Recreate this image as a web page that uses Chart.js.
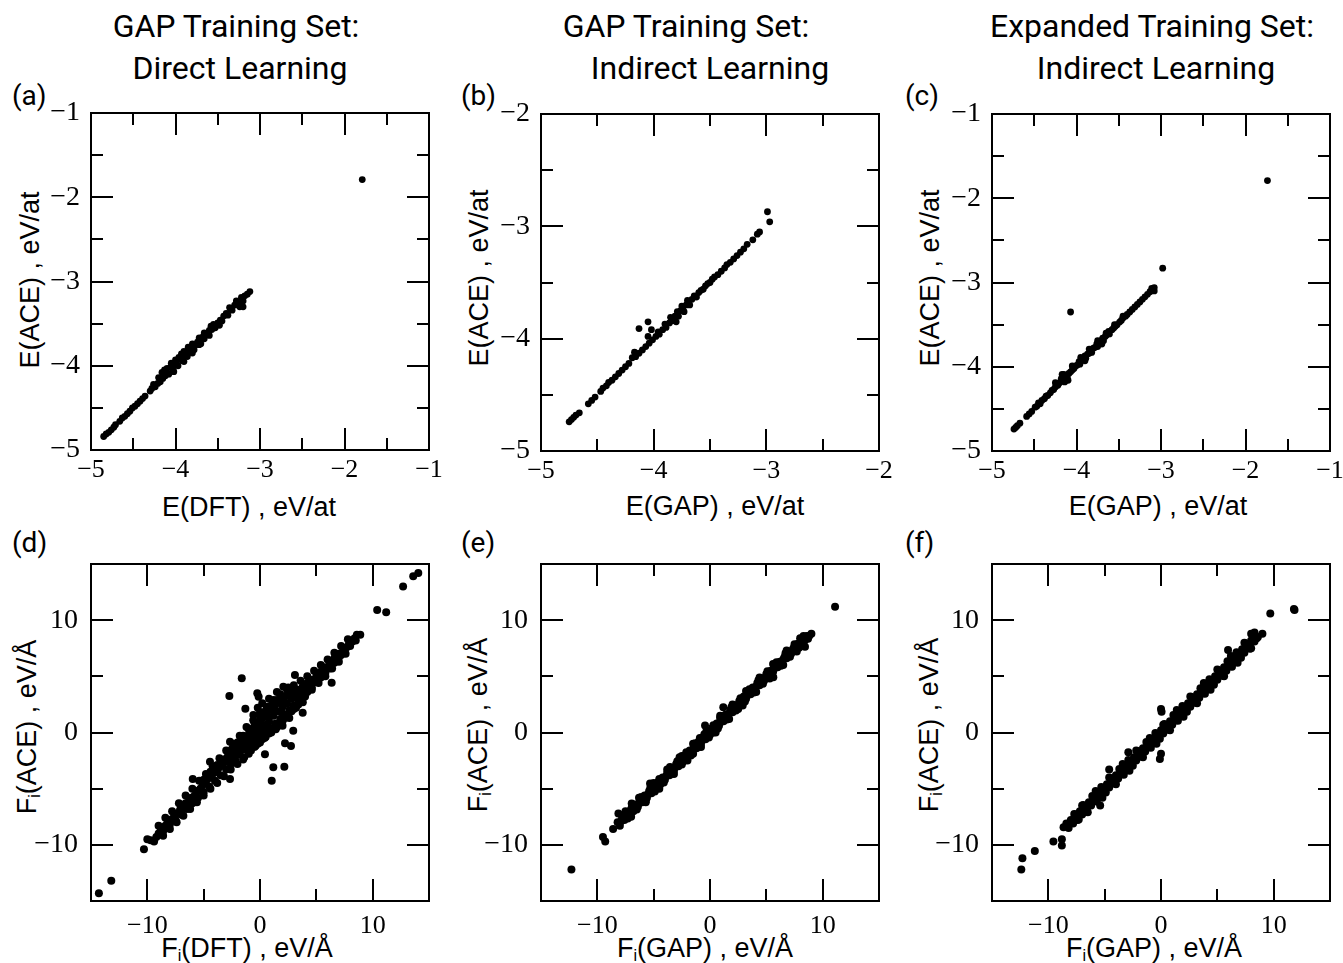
<!DOCTYPE html>
<html>
<head>
<meta charset="utf-8">
<script src="https://cdn.jsdelivr.net/npm/chart.js@4.4.1/dist/chart.umd.min.js"></script>
<style>
  body { margin: 0; background: #fff; }
  #page { position: relative; width: 1343px; height: 963px; overflow: hidden; background: #fff; }
  canvas { position: absolute; }
  .title { position: absolute; font-family: Roboto, sans-serif; font-size: 32px; line-height: 32px; white-space: nowrap; transform: translate(-50%, -50%); color: #000; }
  .plabel { position: absolute; font-family: Roboto, sans-serif; font-size: 28px; line-height: 28px; transform: translateY(-50%); color: #000; }
  .xtitle { position: absolute; font-family: "Liberation Sans", Arial, sans-serif; font-size: 27px; line-height: 27px; white-space: nowrap; transform: translate(-50%, -50%); color: #000; }
  .ytitle { position: absolute; font-family: "Liberation Sans", Arial, sans-serif; font-size: 27px; line-height: 27px; white-space: nowrap; transform: translate(-50%, -50%) rotate(-90deg); color: #000; }
  sub { font-size: 0.6em; vertical-align: -0.3em; line-height: 0; }
</style>
</head>
<body>
<div id="page">
  <div class="title" style="left:236px;top:26px">GAP Training Set:</div>
  <div class="title" style="left:240px;top:68px">Direct Learning</div>
  <div class="title" style="left:686px;top:26px">GAP Training Set:</div>
  <div class="title" style="left:710px;top:68px">Indirect Learning</div>
  <div class="title" style="left:1152px;top:26px">Expanded Training Set:</div>
  <div class="title" style="left:1156px;top:68px">Indirect Learning</div>

  <div class="plabel" style="left:12px;top:96px">(a)</div>
  <div class="plabel" style="left:461px;top:96px">(b)</div>
  <div class="plabel" style="left:905px;top:96px">(c)</div>
  <div class="plabel" style="left:12px;top:543px">(d)</div>
  <div class="plabel" style="left:461px;top:543px">(e)</div>
  <div class="plabel" style="left:905px;top:543px">(f)</div>

  <div class="xtitle" style="left:249px;top:507px">E(DFT) , eV/at</div>
  <div class="xtitle" style="left:715px;top:506px">E(GAP) , eV/at</div>
  <div class="xtitle" style="left:1158px;top:506px">E(GAP) , eV/at</div>
  <div class="xtitle" style="left:247px;top:948px">F<sub>i</sub>(DFT) , eV/Å</div>
  <div class="xtitle" style="left:705px;top:948px">F<sub>i</sub>(GAP) , eV/Å</div>
  <div class="xtitle" style="left:1154px;top:948px">F<sub>i</sub>(GAP) , eV/Å</div>

  <div class="ytitle" style="left:30px;top:280px">E(ACE) , eV/at</div>
  <div class="ytitle" style="left:479px;top:278px">E(ACE) , eV/at</div>
  <div class="ytitle" style="left:930px;top:278px">E(ACE) , eV/at</div>
  <div class="ytitle" style="left:27px;top:727px">F<sub>i</sub>(ACE) , eV/Å</div>
  <div class="ytitle" style="left:478px;top:725px">F<sub>i</sub>(ACE) , eV/Å</div>
  <div class="ytitle" style="left:929px;top:725px">F<sub>i</sub>(ACE) , eV/Å</div>
</div>

<script>
// axis ranges (min, max) and tick steps
const rangeE1 = [-5, -1];
const rangeE2 = [-5, -2];
const rangeF = [-15, 15];
const stepsE = [1, 0.5];   // major, minor
const stepsF = [10, 5];

// (a) energies, direct learning: [E(DFT), E(ACE)]
const eDirect = [
  [-4.85,-4.84],[-4.82,-4.81],[-4.79,-4.79],[-4.76,-4.76],[-4.73,-4.73],[-4.71,-4.70],
  [-4.66,-4.66],[-4.63,-4.62],[-4.60,-4.60],[-4.57,-4.57],[-4.54,-4.54],[-4.51,-4.50],
  [-4.48,-4.48],[-4.45,-4.45],[-4.42,-4.42],[-4.39,-4.39],[-4.36,-4.36],
  [-4.30,-4.30],[-4.28,-4.27],[-4.26,-4.22],[-4.24,-4.25],[-4.21,-4.21],[-4.20,-4.14],
  [-4.19,-4.15],[-4.18,-4.19],[-4.16,-4.08],[-4.15,-4.15],[-4.13,-4.05],[-4.12,-4.12],
  [-4.10,-4.09],[-4.10,-4.03],[-4.08,-4.10],[-4.06,-4.02],[-4.05,-3.97],[-4.03,-4.05],
  [-4.02,-4.07],[-4.01,-3.99],[-4.00,-3.93],[-3.99,-3.95],[-3.97,-4.00],[-3.96,-3.90],
  [-3.95,-3.92],[-3.93,-3.86],[-3.92,-3.94],[-3.90,-3.88],[-3.90,-3.83],[-3.90,-3.95],
  [-3.88,-3.85],[-3.86,-3.89],[-3.85,-3.78],[-3.84,-3.80],[-3.83,-3.84],[-3.81,-3.79],
  [-3.80,-3.74],[-3.80,-3.85],[-3.79,-3.75],[-3.78,-3.81],[-3.76,-3.75],[-3.74,-3.72],
  [-3.72,-3.67],[-3.72,-3.75],[-3.70,-3.68],[-3.70,-3.74],[-3.68,-3.66],[-3.66,-3.61],
  [-3.66,-3.68],[-3.64,-3.62],[-3.62,-3.63],[-3.60,-3.58],[-3.60,-3.64],[-3.58,-3.53],
  [-3.57,-3.57],[-3.55,-3.51],[-3.53,-3.55],[-3.50,-3.49],[-3.48,-3.52],[-3.47,-3.46],
  [-3.45,-3.47],[-3.43,-3.41],[-3.40,-3.38],[-3.38,-3.40],[-3.36,-3.31],[-3.35,-3.33],
  [-3.33,-3.34],[-3.30,-3.28],[-3.28,-3.23],[-3.27,-3.27],[-3.25,-3.26],[-3.24,-3.30],
  [-3.22,-3.19],[-3.20,-3.23],[-3.20,-3.30],[-3.18,-3.17],[-3.15,-3.15],[-3.12,-3.12],
  [-1.79,-1.79]
];

// (b) energies, GAP set, indirect: [E(GAP), E(ACE)]
const eIndirect = [
  [-4.75,-4.74],[-4.73,-4.72],[-4.71,-4.70],[-4.69,-4.68],[-4.66,-4.66],
  [-4.58,-4.58],[-4.55,-4.55],[-4.52,-4.52],
  [-4.47,-4.47],[-4.45,-4.44],[-4.42,-4.42],[-4.40,-4.39],[-4.37,-4.37],[-4.34,-4.34],
  [-4.31,-4.31],[-4.28,-4.28],[-4.25,-4.25],[-4.22,-4.22],
  [-4.19,-4.17],[-4.17,-4.12],[-4.16,-4.16],[-4.13,-4.13],[-4.13,-3.91],[-4.10,-4.10],
  [-4.07,-4.07],[-4.05,-3.85],[-4.05,-3.98],[-4.04,-4.04],[-4.02,-3.92],[-4.01,-4.01],
  [-3.98,-3.98],[-3.96,-3.94],[-3.95,-3.96],[-3.92,-3.92],[-3.90,-3.87],[-3.89,-3.90],
  [-3.86,-3.86],[-3.85,-3.81],[-3.84,-3.82],[-3.83,-3.84],[-3.81,-3.80],[-3.80,-3.85],
  [-3.79,-3.76],[-3.78,-3.80],[-3.76,-3.75],[-3.75,-3.71],[-3.74,-3.72],[-3.73,-3.76],
  [-3.71,-3.70],[-3.70,-3.66],[-3.69,-3.67],[-3.68,-3.70],[-3.66,-3.65],[-3.64,-3.62],
  [-3.62,-3.63],[-3.60,-3.59],[-3.58,-3.57],[-3.56,-3.56],[-3.54,-3.53],[-3.52,-3.51],
  [-3.50,-3.50],[-3.48,-3.47],[-3.46,-3.45],[-3.43,-3.43],[-3.40,-3.40],[-3.37,-3.37],
  [-3.35,-3.34],[-3.32,-3.32],[-3.29,-3.29],[-3.26,-3.26],[-3.23,-3.23],[-3.20,-3.20],
  [-3.17,-3.16],[-3.12,-3.12],[-3.08,-3.07],[-3.06,-3.05],
  [-2.99,-2.87],[-2.97,-2.96]
];

// (c) energies, expanded set, indirect: [E(GAP), E(ACE)]
const eExpanded = [
  [-4.74,-4.74],[-4.72,-4.72],[-4.70,-4.70],[-4.67,-4.67],
  [-4.59,-4.59],[-4.56,-4.56],[-4.53,-4.53],
  [-4.49,-4.48],[-4.47,-4.47],[-4.45,-4.43],[-4.43,-4.44],[-4.41,-4.40],[-4.38,-4.38],
  [-4.36,-4.35],[-4.34,-4.34],[-4.31,-4.31],[-4.29,-4.28],[-4.27,-4.27],[-4.25,-4.24],
  [-4.25,-4.19],[-4.22,-4.22],[-4.20,-4.19],[-4.18,-4.14],[-4.17,-4.09],[-4.16,-4.17],
  [-4.15,-4.09],[-4.14,-4.18],[-4.14,-4.13],[-4.12,-4.10],[-4.11,-4.13],[-4.10,-4.16],
  [-4.09,-4.08],[-4.07,-4.06],[-4.05,-4.04],[-4.05,-3.99],[-4.03,-4.02],[-4.01,-3.99],
  [-3.99,-3.98],[-3.97,-3.94],[-3.96,-3.97],[-3.95,-3.89],[-3.94,-3.92],[-3.92,-3.91],
  [-3.90,-3.87],[-3.90,-3.93],[-3.89,-3.90],[-3.87,-3.85],[-3.85,-3.84],[-3.85,-3.79],
  [-3.83,-3.80],[-3.82,-3.83],[-3.80,-3.78],[-3.78,-3.77],[-3.76,-3.73],[-3.75,-3.76],
  [-3.75,-3.69],[-3.73,-3.71],[-3.71,-3.69],[-3.70,-3.73],[-3.69,-3.66],[-3.68,-3.69],
  [-3.66,-3.64],[-3.65,-3.60],[-3.64,-3.62],[-3.62,-3.58],[-3.61,-3.61],[-3.58,-3.56],
  [-3.56,-3.54],[-3.55,-3.50],[-3.54,-3.52],[-3.52,-3.50],[-3.49,-3.47],[-3.47,-3.45],
  [-3.45,-3.42],[-3.45,-3.40],[-3.42,-3.40],[-3.40,-3.38],[-3.37,-3.35],[-3.34,-3.32],
  [-3.31,-3.29],[-3.28,-3.26],[-3.25,-3.23],[-3.22,-3.20],[-3.19,-3.17],[-3.16,-3.14],
  [-3.13,-3.11],[-3.11,-3.07],[-3.10,-3.09],[-3.08,-3.06],[-3.08,-3.10],
  [-2.98,-2.83],[-4.07,-3.35],[-1.74,-1.79]
];

// (d) forces, direct learning: [F(DFT), F(ACE)]
const fDirect = [
  [-14.3,-14.3],[-13.2,-13.2],
  [-10.3,-10.4],[-10.0,-9.5],[-9.7,-9.6],[-9.4,-9.7],[-9.2,-9.3],[-9.0,-9.0],[-9.0,-8.3],
  [-8.8,-8.6],[-8.6,-8.8],[-8.6,-9.2],[-8.4,-8.3],[-8.4,-7.6],[-8.2,-8.0],[-8.0,-8.2],
  [-8.0,-8.6],[-7.8,-7.7],[-7.8,-7.0],[-7.6,-7.4],[-7.5,-7.8],[-7.4,-8.0],[-7.3,-7.2],
  [-7.2,-6.3],[-7.1,-6.9],[-7.0,-7.3],[-6.8,-6.7],[-6.8,-7.4],[-6.6,-6.3],[-6.6,-5.6],
  [-6.5,-6.8],[-6.3,-6.1],[-6.2,-6.8],[-6.1,-5.8],[-6.0,-6.3],[-6.0,-5.0],[-5.97,-4.14],
  [-5.8,-5.6],[-5.6,-5.2],[-5.6,-6.2],[-5.5,-5.8],[-5.4,-4.3],[-5.3,-5.0],[-5.1,-4.7],
  [-5.0,-5.3],[-5.0,-5.6],[-5.0,-4.2],[-4.8,-4.5],[-4.8,-3.7],[-4.6,-4.1],[-4.5,-4.8],
  [-4.44,-2.6],[-4.4,-5.0],[-4.4,-3.5],[-4.3,-3.9],[-4.2,-3.0],[-4.1,-3.6],[-4.0,-4.3],
  [-3.8,-3.4],[-3.8,-4.5],[-3.8,-2.9],[-3.6,-3.1],[-3.6,-2.3],[-3.5,-3.8],[-3.3,-2.9],
  [-3.2,-3.9],[-3.2,-2.4],[-3.1,-2.6],[-3.0,-3.3],[-3.0,-1.6],[-2.9,-2.2],[-2.8,-2.5],
  [-2.72,3.25],[-2.66,-4.14],[-2.66,-0.82],[-2.6,-2.8],[-2.6,-3.3],[-2.6,-1.9],[-2.5,-1.9],
  [-2.5,-1.5],[-2.4,-1.0],[-2.3,-2.1],[-2.2,-2.5],[-2.2,-1.3],[-2.0,-1.5],[-2.0,-0.9],
  [-2.0,-2.0],[-2.0,-2.8],[-1.9,-1.1],[-1.8,-1.9],[-1.8,-0.3],[-1.8,-0.8],[-1.62,4.83],
  [-1.6,-1.3],[-1.5,-0.7],[-1.5,-0.3],[-1.5,-2.4],[-1.4,-1.5],[-1.4,-2.2],[-1.30,2.12],
  [-1.2,-0.9],[-1.2,0.5],[-1.2,-0.4],[-1.1,-0.3],[-1.0,-1.2],[-1.0,0.3],[-1.0,-1.9],
  [-0.9,-0.2],[-0.8,-0.5],[-0.8,-1.6],[-0.7,0.2],[-0.6,-0.8],[-0.6,1.1],[-0.6,0.4],
  [-0.59,1.56],[-0.5,0.9],[-0.5,-1.3],[-0.4,-0.1],[-0.4,-1.2],[-0.3,0.6],[-0.24,3.49],
  [-0.2,-0.5],[-0.2,0.2],[-0.2,-1.0],[-0.2,2.2],[-0.12,3.19],[0.0,0.3],[0.0,1.4],
  [0.0,-0.9],[0.0,1.8],[0.0,0.9],[0.1,1.1],[0.2,-0.2],[0.2,-0.6],[0.2,2.6],[0.3,1.8],
  [0.4,0.6],[0.4,-0.5],[0.44,-1.94],[0.5,1.4],[0.5,-0.4],[0.5,1.9],[0.6,0.1],[0.6,0.7],
  [0.6,2.3],[0.6,1.5],[0.8,1.0],[0.8,-0.1],[0.8,3.0],[0.9,2.0],[1.0,0.4],[1.0,0.1],
  [1.0,2.4],[1.0,0.0],[1.04,-4.29],[1.18,-3.1],[1.2,1.5],[1.2,2.9],[1.2,2.0],[1.3,2.4],
  [1.3,0.4],[1.4,0.8],[1.4,0.3],[1.5,2.9],[1.5,0.5],[1.5,3.6],[1.6,1.9],[1.6,0.6],
  [1.7,2.7],[1.8,1.2],[1.8,3.4],[1.8,2.6],[1.9,1.8],[2.0,2.3],[2.0,1.0],[2.0,0.6],
  [2.07,4.08],[2.1,3.0],[2.16,-3.05],[2.2,1.6],[2.2,1.3],[2.22,-0.96],[2.4,2.6],
  [2.4,3.8],[2.4,3.3],[2.5,3.3],[2.5,1.6],[2.5,4.0],[2.6,2.0],[2.6,1.3],[2.75,-1.2],
  [2.8,3.0],[2.8,1.9],[2.95,0.16],[3.0,3.6],[3.0,2.4],[3.0,2.1],[3.0,4.2],[3.1,5.12],
  [3.2,3.2],[3.2,2.2],[3.4,3.8],[3.4,2.8],[3.4,2.5],[3.6,3.5],[3.6,4.6],[3.79,1.76],
  [3.8,4.1],[3.8,3.2],[3.8,2.7],[4.0,3.8],[4.0,3.2],[4.2,4.4],[4.2,3.6],[4.2,5.0],
  [4.4,4.1],[4.6,4.7],[4.6,4.0],[4.6,3.8],[4.8,4.5],[4.8,5.5],[5.0,5.0],[5.0,4.5],
  [5.2,4.9],[5.2,4.4],[5.4,5.4],[5.4,4.9],[5.4,6.0],[5.6,5.3],[5.8,5.8],[5.8,5.3],
  [5.8,5.0],[6.0,5.7],[6.0,6.5],[6.2,6.2],[6.2,5.7],[6.36,4.43],[6.4,6.1],[6.4,5.7],
  [6.6,6.6],[6.6,6.2],[6.6,7.1],[6.8,6.5],[7.0,7.0],[7.0,6.7],[7.0,6.3],[7.2,6.9],
  [7.2,7.7],[7.4,7.4],[7.5,7.2],[7.6,7.0],[7.7,7.6],[7.8,8.3],[7.9,7.9],[8.0,7.7],
  [8.2,8.1],[8.4,8.4],[8.5,8.2],[8.6,8.7],[8.9,8.7],
  [10.4,10.9],[11.2,10.7],[12.7,13.0],[13.6,13.9],[14.05,14.2]
];

// (e) forces, GAP set, indirect: [F(GAP), F(ACE)]
const fIndirect = [
  [-12.3,-12.2],[-9.5,-9.3],[-9.3,-9.7],[-8.6,-8.6],[-8.13,-7.21],
  [-8.2,-8.0],[-8.0,-8.3],[-7.9,-7.9],[-7.8,-7.6],[-7.7,-7.35],[-7.6,-7.8],[-7.5,-7.0],
  [-7.5,-7.5],[-7.4,-7.2],[-7.3,-7.65],[-7.2,-7.4],[-7.1,-7.1],[-7.0,-6.8],[-7.0,-7.5],
  [-6.95,-6.33],[-6.9,-6.55],[-6.8,-7.0],[-6.7,-6.6],[-6.6,-6.4],[-6.5,-6.85],[-6.4,-6.6],
  [-6.3,-5.8],[-6.3,-6.3],[-6.2,-6.0],[-6.1,-5.75],[-6.0,-6.2],[-5.9,-5.9],[-5.8,-5.6],
  [-5.7,-6.2],[-5.7,-6.05],[-5.6,-5.8],[-5.5,-5.5],[-5.4,-5.2],[-5.32,-4.55],[-5.3,-4.95],
  [-5.2,-5.4],[-5.1,-5.1],[-5.0,-4.8],[-5.0,-4.5],[-4.9,-5.25],[-4.8,-5.0],[-4.7,-4.7],
  [-4.6,-4.4],[-4.5,-5.0],[-4.5,-4.15],[-4.4,-4.6],[-4.3,-4.3],[-4.2,-4.0],[-4.1,-4.45],
  [-4.0,-4.2],[-3.9,-3.9],[-3.8,-3.6],[-3.8,-3.3],[-3.7,-3.35],[-3.6,-3.8],[-3.55,-3.07],
  [-3.5,-3.5],[-3.4,-3.2],[-3.3,-3.65],[-3.2,-3.4],[-3.2,-3.7],[-3.1,-3.1],[-3.0,-2.8],
  [-2.9,-2.55],[-2.8,-3.0],[-2.7,-2.7],[-2.7,-2.2],[-2.6,-2.4],[-2.5,-2.1],[-2.5,-2.85],
  [-2.4,-2.6],[-2.3,-2.3],[-2.2,-2.0],[-2.1,-1.75],[-2.0,-2.2],[-2.0,-2.5],[-1.9,-1.9],
  [-1.8,-1.6],[-1.7,-2.05],[-1.6,-1.8],[-1.5,-1.9],[-1.5,-1.0],[-1.5,-1.5],[-1.4,-1.2],
  [-1.3,-0.95],[-1.2,-1.4],[-1.1,-1.1],[-1.0,-0.8],[-0.9,-0.5],[-0.9,-1.25],[-0.8,-1.0],
  [-0.8,-1.3],[-0.7,-0.7],[-0.6,-0.4],[-0.5,-0.15],[-0.44,0.62],[-0.4,-0.6],[-0.3,0.2],
  [-0.3,-0.3],[-0.2,0.0],[-0.1,-0.45],[0.0,-0.2],[0.1,0.1],[0.2,0.4],[0.3,0.0],[0.3,0.65],
  [0.4,0.2],[0.5,0.0],[0.5,0.5],[0.6,0.8],[0.7,0.35],[0.8,0.6],[0.9,1.3],[0.9,1.5],
  [0.9,0.9],[1.0,1.2],[1.1,1.45],[1.18,2.25],[1.2,1.0],[1.3,1.3],[1.4,1.6],[1.5,1.15],
  [1.6,1.4],[1.7,1.2],[1.7,1.7],[1.8,2.0],[1.9,2.25],[2.0,1.8],[2.0,2.5],[2.1,2.1],
  [2.2,2.4],[2.3,1.95],[2.4,2.2],[2.5,2.1],[2.5,2.5],[2.6,2.8],[2.7,3.05],[2.8,2.6],
  [2.9,2.4],[2.9,2.9],[3.0,3.2],[3.1,2.75],[3.2,3.0],[3.2,3.7],[3.3,3.3],[3.4,3.6],
  [3.5,3.85],[3.6,3.4],[3.7,3.7],[3.8,4.0],[3.9,3.55],[4.0,3.8],[4.1,3.6],[4.1,4.1],
  [4.2,4.4],[4.3,4.65],[4.4,4.2],[4.4,4.9],[4.5,4.5],[4.6,4.8],[4.7,4.35],[4.8,4.6],
  [4.9,4.9],[5.0,5.2],[5.1,5.45],[5.2,5.0],[5.3,4.8],[5.3,5.3],[5.4,5.5],[5.5,5.15],
  [5.62,4.91],[5.6,5.4],[5.6,6.1],[5.7,5.7],[5.8,5.9],[5.9,6.25],[6.0,5.8],[6.1,6.1],
  [6.2,6.3],[6.3,5.95],[6.4,6.2],[6.5,6.0],[6.5,6.5],[6.6,6.7],[6.7,7.05],[6.8,6.6],
  [6.8,7.3],[6.9,6.9],[7.0,7.1],[7.1,6.75],[7.2,7.0],[7.3,7.3],[7.4,7.5],[7.5,7.85],
  [7.6,7.4],[7.7,7.2],[7.7,7.7],[7.8,7.9],[7.9,7.55],[8.0,7.8],[8.0,8.4],[8.1,8.1],
  [8.2,8.3],[8.3,8.6],[8.43,7.63],[8.4,8.2],[8.5,8.4],[8.6,8.6],[8.7,8.35],[8.8,8.6],
  [9.0,8.8],
  [11.1,11.2]
];

// (f) forces, expanded set, indirect: [F(GAP), F(ACE)]
const fExpanded = [
  [-12.4,-12.2],[-12.3,-11.2],[-11.2,-10.55],[-9.55,-9.7],[-8.8,-9.5],[-8.8,-10.05],
  [-8.65,-8.43],
  [-8.4,-8.1],[-8.2,-8.5],[-8.0,-7.8],[-7.9,-7.9],[-7.8,-8.1],[-7.7,-7.25],[-7.6,-7.3],
  [-7.5,-7.5],[-7.4,-7.8],[-7.3,-7.75],[-7.2,-7.0],[-7.1,-7.1],[-7.0,-7.3],[-7.0,-6.5],
  [-6.9,-6.45],[-6.8,-6.6],[-6.7,-6.7],[-6.6,-6.9],[-6.5,-7.1],[-6.4,-6.2],[-6.3,-6.3],
  [-6.2,-6.5],[-6.1,-5.65],[-6.0,-5.8],[-5.9,-5.9],[-5.8,-6.1],[-5.8,-5.2],[-5.7,-6.15],
  [-5.6,-5.4],[-5.5,-5.5],[-5.4,-5.7],[-5.4,-6.5],[-5.3,-4.85],[-5.2,-5.0],[-5.2,-5.8],
  [-5.1,-5.1],[-5.0,-5.3],[-4.9,-5.35],[-4.8,-4.6],[-4.7,-4.7],[-4.6,-4.9],[-4.6,-4.0],
  [-4.6,-3.3],[-4.5,-4.05],[-4.4,-4.2],[-4.3,-4.3],[-4.2,-4.5],[-4.1,-4.55],[-4.0,-3.8],
  [-4.0,-4.6],[-3.9,-3.9],[-3.8,-4.1],[-3.7,-3.25],[-3.6,-3.4],[-3.5,-3.5],[-3.4,-3.7],
  [-3.4,-2.8],[-3.3,-3.75],[-3.2,-3.0],[-3.1,-3.1],[-3.0,-3.3],[-2.9,-1.75],[-2.9,-2.45],
  [-2.8,-2.6],[-2.8,-3.4],[-2.7,-2.7],[-2.6,-2.9],[-2.5,-2.95],[-2.4,-2.2],[-2.3,-2.3],
  [-2.2,-2.5],[-2.2,-1.6],[-2.1,-1.65],[-2.0,-1.8],[-1.9,-1.9],[-1.8,-2.1],[-1.7,-2.15],
  [-1.6,-1.4],[-1.6,-2.2],[-1.5,-1.5],[-1.4,-1.7],[-1.3,-0.85],[-1.2,-1.0],[-1.1,-1.1],
  [-1.0,-1.3],[-1.0,-0.5],[-0.9,-1.35],[-0.8,-0.6],[-0.7,-0.7],[-0.6,-0.9],[-0.5,-0.05],
  [-0.4,-0.2],[-0.4,-1.0],[-0.3,-0.3],[-0.2,-0.5],[-0.1,-0.55],[0.0,0.2],[0.0,2.1],
  [0.05,1.85],[0.0,-1.9],[-0.1,-2.35],[0.1,0.1],[0.2,-0.1],[0.2,0.7],[0.3,0.75],[0.4,0.6],
  [0.5,0.5],[0.6,0.3],[0.7,0.25],[0.8,1.0],[0.8,0.2],[0.9,0.9],[1.0,0.7],[1.1,1.55],
  [1.2,1.4],[1.3,1.3],[1.4,1.1],[1.4,2.0],[1.5,1.05],[1.6,1.8],[1.7,1.7],[1.8,1.5],
  [1.9,2.35],[2.0,2.2],[2.0,1.4],[2.1,2.1],[2.2,1.9],[2.3,1.85],[2.4,2.6],[2.5,2.5],
  [2.6,2.3],[2.6,3.2],[2.7,3.15],[2.8,3.0],[2.9,2.9],[3.0,2.7],[3.1,2.65],[3.2,3.4],
  [3.2,2.6],[3.3,3.3],[3.4,3.1],[3.5,3.95],[3.6,3.8],[3.7,3.7],[3.8,3.5],[3.8,4.4],
  [3.9,3.45],[4.0,4.2],[4.1,4.1],[4.2,3.9],[4.3,4.75],[4.4,4.6],[4.4,3.8],[4.5,4.5],
  [4.6,4.3],[4.7,4.25],[4.8,5.0],[4.9,4.9],[5.0,4.7],[5.0,5.6],[5.1,5.55],[5.2,5.4],
  [5.3,5.3],[5.4,5.1],[5.5,5.05],[5.6,5.8],[5.6,5.0],[5.7,5.7],[5.8,5.5],[5.9,6.35],
  [5.95,7.35],[6.0,6.2],[6.1,6.1],[6.2,5.9],[6.2,6.8],[6.3,5.85],[6.4,6.6],[6.5,6.5],
  [6.6,6.3],[6.7,7.15],[6.8,7.0],[6.8,6.2],[6.9,6.9],[7.0,6.7],[7.1,6.65],[7.2,7.4],
  [7.3,7.3],[7.4,7.1],[7.4,8.0],[7.5,7.95],[7.6,7.8],[7.7,7.7],[7.8,7.6],[7.9,7.45],
  [8.0,8.2],[8.0,7.5],[8.0,8.8],[8.1,8.1],[8.3,8.1],[8.3,8.9],[8.5,8.4],[8.6,8.5],
  [9.0,8.8],
  [9.7,10.6],[11.8,11.0],[11.85,10.9]
];

const PLOT_W = 338, PLOT_H = 337;
const YAXIS_W = 80, XAXIS_H = 50, PAD_T = 22, PAD_R = 22;
const TICK_FONT = '"Liberation Serif", "Times New Roman", serif';

const panels = [
  { data: eDirect,   left: 91,  top: 113, xr: rangeE1, yr: rangeE1, steps: stepsE, r: 3.4, xPad: -3, yPad: 3 },
  { data: eIndirect, left: 541, top: 114, xr: rangeE2, yr: rangeE2, steps: stepsE, r: 3.4, xPad: -3, yPad: 3 },
  { data: eExpanded, left: 992, top: 114, xr: rangeE1, yr: rangeE1, steps: stepsE, r: 3.4, xPad: -3, yPad: 3 },
  { data: fDirect,   left: 91,  top: 564, xr: rangeF,  yr: rangeF,  steps: stepsF, r: 4,   xPad: 2,  yPad: 5 },
  { data: fIndirect, left: 541, top: 564, xr: rangeF,  yr: rangeF,  steps: stepsF, r: 4,   xPad: 2,  yPad: 5 },
  { data: fExpanded, left: 992, top: 564, xr: rangeF,  yr: rangeF,  steps: stepsF, r: 4,   xPad: 2,  yPad: 5 }
];

function isMajor(v, major) {
  const q = v / major;
  return Math.abs(q - Math.round(q)) < 1e-6;
}

function fmt(v) {
  return v < 0 ? '\u2212' + Math.abs(v) : String(v);
}

// box around the plot with inward ticks on all four sides
const framePlugin = {
  id: 'frame',
  afterDatasetsDraw(chart, args, opts) {
    const ctx = chart.ctx;
    const a = chart.chartArea;
    const sx = chart.scales.x, sy = chart.scales.y;
    ctx.save();
    ctx.strokeStyle = '#000';
    ctx.lineWidth = 2;
    ctx.beginPath();
    sx.ticks.forEach(t => {
      if (t.value <= sx.min || t.value >= sx.max) return;
      const len = isMajor(t.value, opts.major) ? 22 : 12;
      const px = Math.round(sx.getPixelForValue(t.value));
      ctx.moveTo(px, a.bottom); ctx.lineTo(px, a.bottom - len);
      ctx.moveTo(px, a.top); ctx.lineTo(px, a.top + len);
    });
    sy.ticks.forEach(t => {
      if (t.value <= sy.min || t.value >= sy.max) return;
      const len = isMajor(t.value, opts.major) ? 22 : 12;
      const py = Math.round(sy.getPixelForValue(t.value));
      ctx.moveTo(a.left, py); ctx.lineTo(a.left + len, py);
      ctx.moveTo(a.right, py); ctx.lineTo(a.right - len, py);
    });
    ctx.stroke();
    ctx.strokeRect(a.left, a.top, a.right - a.left, a.bottom - a.top);
    ctx.restore();
  }
};

const page = document.getElementById('page');

panels.forEach(p => {
  const cv = document.createElement('canvas');
  const w = YAXIS_W + PLOT_W + PAD_R;
  const h = PAD_T + PLOT_H + XAXIS_H;
  cv.width = w;
  cv.height = h;
  cv.style.width = w + 'px';
  cv.style.height = h + 'px';
  cv.style.left = (p.left - YAXIS_W) + 'px';
  cv.style.top = (p.top - PAD_T) + 'px';
  page.appendChild(cv);

  const major = p.steps[0], minor = p.steps[1];
  new Chart(cv, {
    type: 'scatter',
    data: {
      datasets: [{
        data: p.data.map(d => ({ x: d[0], y: d[1] })),
        pointRadius: p.r,
        pointHoverRadius: p.r,
        backgroundColor: '#000',
        borderWidth: 0
      }]
    },
    options: {
      responsive: false,
      animation: false,
      events: [],
      layout: { padding: { left: 0, top: PAD_T, right: PAD_R, bottom: 0 } },
      plugins: {
        legend: { display: false },
        tooltip: { enabled: false },
        frame: { major: major }
      },
      scales: {
        x: {
          type: 'linear', min: p.xr[0], max: p.xr[1],
          grid: { display: false }, border: { display: false },
          ticks: {
            stepSize: minor, autoSkip: false, maxRotation: 0, padding: p.xPad,
            color: '#000', font: { family: TICK_FONT, size: 26 },
            callback: v => isMajor(v, major) ? fmt(v) : ''
          },
          afterFit: s => { s.height = XAXIS_H; s.paddingLeft = 0; s.paddingRight = 0; }
        },
        y: {
          type: 'linear', min: p.yr[0], max: p.yr[1],
          grid: { display: false }, border: { display: false },
          ticks: {
            stepSize: minor, autoSkip: false, padding: p.yPad,
            color: '#000', font: { family: TICK_FONT, size: 28 },
            callback: v => isMajor(v, major) ? fmt(v) : ''
          },
          afterFit: s => { s.width = YAXIS_W; s.paddingTop = 0; s.paddingBottom = 0; }
        }
      }
    },
    plugins: [framePlugin]
  });
});
</script>
</body>
</html>
